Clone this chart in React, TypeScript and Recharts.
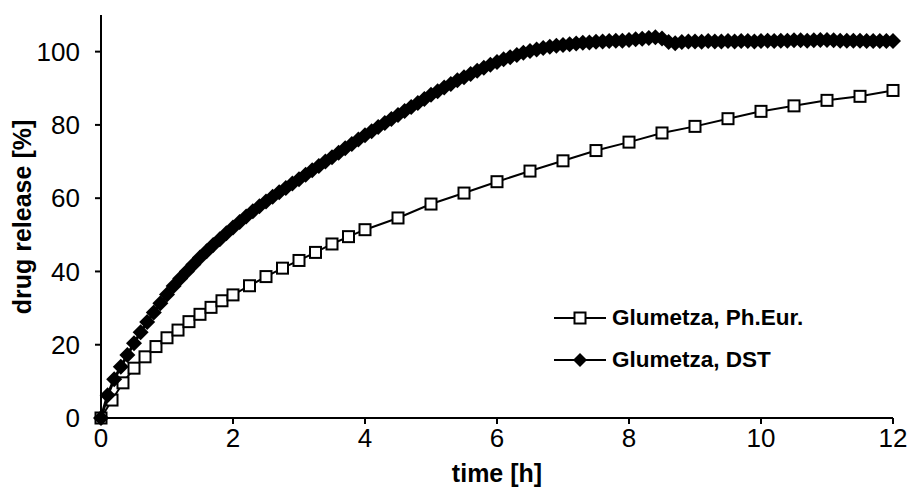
import { LineChart, Line, XAxis, YAxis, Label } from "recharts";

// Ph.Eur. sampling (h) and release (%)
const eurTime = [
  0, 0.167, 0.333, 0.5, 0.667, 0.833, 1, 1.167, 1.333, 1.5, 1.667, 1.833, 2,
  2.25, 2.5, 2.75, 3, 3.25, 3.5, 3.75, 4, 4.5, 5, 5.5, 6, 6.5, 7, 7.5, 8, 8.5,
  9, 9.5, 10, 10.5, 11, 11.5, 12,
];
const eurRelease = [
  0, 4.9, 9.6, 13.6, 16.7, 19.5, 21.9, 24.0, 26.3, 28.3, 30.2, 32.0, 33.6,
  36.1, 38.6, 40.9, 43.0, 45.2, 47.5, 49.5, 51.4, 54.6, 58.4, 61.4, 64.5, 67.4,
  70.2, 73.0, 75.3, 77.8, 79.6, 81.7, 83.7, 85.2, 86.7, 87.8, 89.4,
];

// DST sampling (h) and release (%)
const dstTime = [
  0, 0.1, 0.2, 0.3, 0.4, 0.5, 0.6, 0.7, 0.8, 0.9, 1, 1.1, 1.2, 1.3, 1.4, 1.5,
  1.6, 1.7, 1.8, 1.9, 2, 2.1, 2.2, 2.3, 2.4, 2.5, 2.6, 2.7, 2.8, 2.9, 3, 3.1,
  3.2, 3.3, 3.4, 3.5, 3.6, 3.7, 3.8, 3.9, 4, 4.1, 4.2, 4.3, 4.4, 4.5, 4.6, 4.7,
  4.8, 4.9, 5, 5.1, 5.2, 5.3, 5.4, 5.5, 5.6, 5.7, 5.8, 5.9, 6, 6.1, 6.2, 6.3,
  6.4, 6.5, 6.6, 6.7, 6.8, 6.9, 7, 7.1, 7.2, 7.3, 7.4, 7.5, 7.6, 7.7, 7.8, 7.9,
  8, 8.1, 8.2, 8.3, 8.4, 8.5, 8.6, 8.7, 8.8, 8.9, 9, 9.1, 9.2, 9.3, 9.4, 9.5,
  9.6, 9.7, 9.8, 9.9, 10, 10.1, 10.2, 10.3, 10.4, 10.5, 10.6, 10.7, 10.8, 10.9,
  11, 11.1, 11.2, 11.3, 11.4, 11.5, 11.6, 11.7, 11.8, 11.9, 12,
];
const dstRelease = [
  0, 6.2, 10.6, 14.0, 17.2, 20.4, 23.4, 26.2, 28.8, 31.3, 33.7, 36.0, 38.1,
  40.0, 41.9, 43.8, 45.5, 47.2, 48.8, 50.4, 52.0, 53.5, 55.0, 56.4, 57.8, 59.1,
  60.4, 61.6, 62.8, 64.0, 65.2, 66.4, 67.6, 68.8, 70.0, 71.2, 72.4, 73.6, 74.8,
  76.0, 77.2, 78.3, 79.4, 80.5, 81.6, 82.7, 83.8, 84.9, 86.0, 87.1, 88.2, 89.2,
  90.2, 91.2, 92.2, 93.0, 93.9, 94.8, 95.6, 96.4, 97.2, 97.9, 98.5, 99.1, 99.7,
  100.2, 100.6, 101.0, 101.3, 101.6, 101.8, 102.0, 102.2, 102.4, 102.5, 102.7,
  102.8, 102.9, 103.0, 103.0, 103.2, 103.4, 103.5, 103.7, 103.9, 103.6, 102.6,
  102.3, 102.6, 102.8, 102.8, 102.7, 102.9, 102.8, 102.8, 102.9, 102.8, 102.9,
  102.9, 102.8, 102.9, 103.0, 102.9, 103.0, 103.0, 103.1, 103.1, 103.0, 103.1,
  103.2, 103.2, 103.1, 103.0, 103.0, 103.0, 103.0, 102.9, 102.9, 102.9, 102.9,
  102.9,
];

const xTicks = [0, 2, 4, 6, 8, 10, 12];
const yTicks = [0, 20, 40, 60, 80, 100];

const eurData = eurTime.map((t, i) => ({ t, v: eurRelease[i] }));
const dstData = dstTime.map((t, i) => ({ t, v: dstRelease[i] }));

const FONT = "Arial, 'Liberation Sans', sans-serif";

const SquareDot = (props: any) => {
  const { cx, cy, key } = props;
  if (cx == null || cy == null) return null;
  return (
    <rect key={key} x={cx - 5.5} y={cy - 5.5} width={11} height={11}
      fill="#fff" stroke="#000" strokeWidth={2} />
  );
};

const DiamondDot = (props: any) => {
  const { cx, cy, key } = props;
  if (cx == null || cy == null) return null;
  const r = 8;
  return (
    <polygon key={key}
      points={`${cx},${cy - r} ${cx + r},${cy} ${cx},${cy + r} ${cx - r},${cy}`}
      fill="#000" />
  );
};

// legend drawn as an overlay so it doesn't steal height from the plot
const LegendBox = () => (
  <div style={{
    position: "absolute", left: 554, top: 297, fontFamily: FONT,
    fontWeight: "bold", fontSize: 22.5, color: "#000",
  }}>
    <div style={{ display: "flex", alignItems: "center", height: 42 }}>
      <svg width={58} height={42}>
        <line x1={0} y1={21} x2={52} y2={21} stroke="#000" strokeWidth={2} />
        <rect x={20.5} y={15.5} width={11} height={11} fill="#fff" stroke="#000" strokeWidth={2} />
      </svg>
      <span>Glumetza, Ph.Eur.</span>
    </div>
    <div style={{ display: "flex", alignItems: "center", height: 42 }}>
      <svg width={58} height={42}>
        <line x1={0} y1={21} x2={52} y2={21} stroke="#000" strokeWidth={2} />
        <polygon points="26,14 33,21 26,28 19,21" fill="#000" />
      </svg>
      <span>Glumetza, DST</span>
    </div>
  </div>
);

export default function App() {
  return (
    <div style={{ position: "fixed", left: 0, top: 0, width: 910, height: 488, background: "#fff" }}>
      <LineChart width={910} height={488} margin={{ top: 15, right: 17, bottom: 0, left: 0 }}>
        <XAxis
          type="number"
          dataKey="t"
          domain={[0, 12]}
          ticks={xTicks}
          height={70}
          axisLine={{ stroke: "#000", strokeWidth: 2 }}
          tickLine={{ stroke: "#000", strokeWidth: 2 }}
          tickSize={6}
          tickMargin={5}
          tick={{ fill: "#000", fontSize: 26, fontFamily: FONT }}
        >
          <Label
            content={() => (
              <text x={497} y={473} textAnchor="middle" dominantBaseline="central"
                fontFamily={FONT} fontWeight="bold" fontSize={25} fill="#000">
                time [h]
              </text>
            )}
          />
        </XAxis>
        <YAxis
          type="number"
          domain={[0, 110]}
          ticks={yTicks}
          width={101}
          axisLine={{ stroke: "#000", strokeWidth: 2 }}
          tickLine={{ stroke: "#000", strokeWidth: 2 }}
          tickSize={6}
          tickMargin={15}
          tick={{ fill: "#000", fontSize: 26, fontFamily: FONT }}
        >
          <Label
            content={() => (
              <text x={22} y={217} transform="rotate(-90 22 217)" textAnchor="middle"
                dominantBaseline="central" fontFamily={FONT} fontWeight="bold"
                fontSize={25} fill="#000">
                drug release [%]
              </text>
            )}
          />
        </YAxis>
        <Line
          data={eurData}
          dataKey="v"
          type="linear"
          stroke="#000"
          strokeWidth={2}
          dot={SquareDot}
          isAnimationActive={false}
        />
        <Line
          data={dstData}
          dataKey="v"
          type="linear"
          stroke="#000"
          strokeWidth={3}
          dot={DiamondDot}
          isAnimationActive={false}
        />
      </LineChart>
      <LegendBox />
    </div>
  );
}
